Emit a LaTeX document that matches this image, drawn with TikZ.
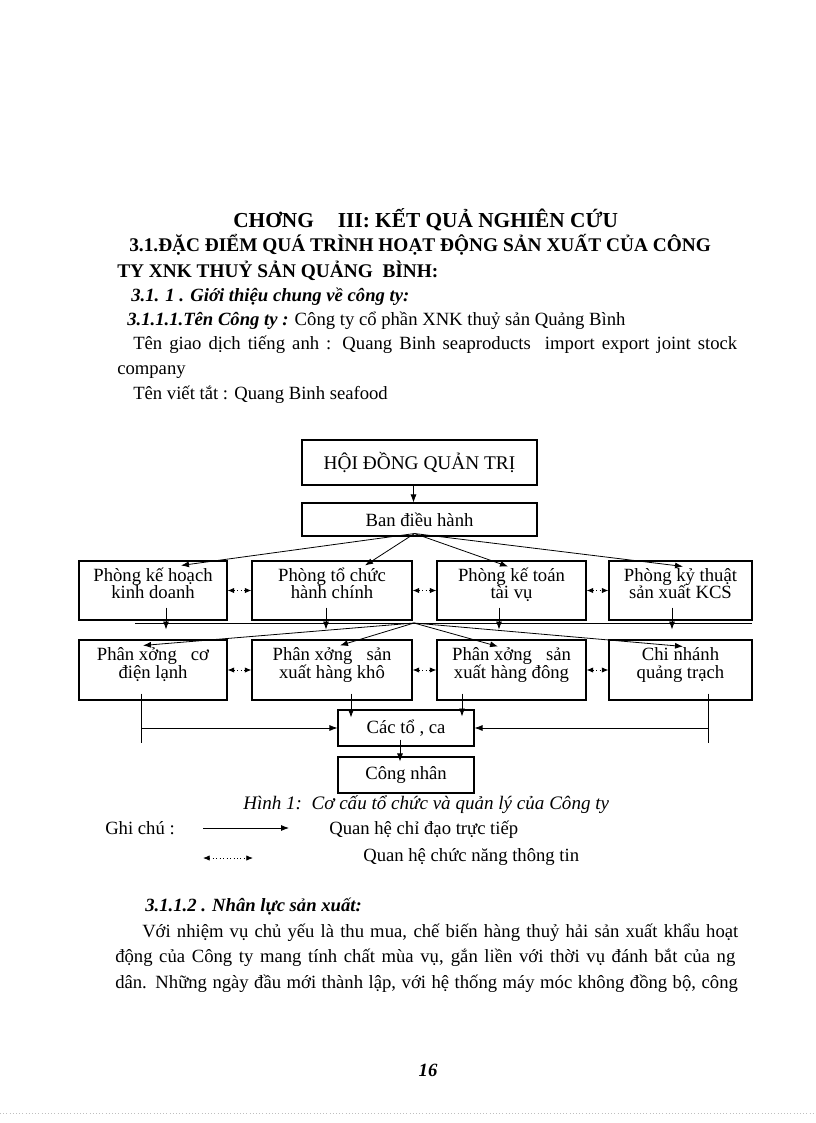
\documentclass[tikz,border=0pt]{standalone}
\usepackage{fontspec}
\setmainfont{Liberation Serif}
\usepackage{tikz}
\usetikzlibrary{positioning,arrows.meta,calc}

\newcommand\boxfont{\fontsize{14}{13}\selectfont\lineskiplimit=-20pt\relax}

\tikzset{
  box/.style={draw, line width=0.8pt, align=center, inner sep=1pt, font=\boxfont},
  rowbox/.style={box, text height=22pt, text depth=10pt},
  conn/.style={line width=0.6pt},
  arr/.style={line width=0.6pt, -{Latex[length=6pt,width=4.5pt]}},
  darr/.style={line width=0.6pt, dotted, {Latex[length=5pt,width=4pt]}-{Latex[length=5pt,width=4pt]}},
  txt/.style={anchor=base west, inner sep=0pt, font=\fontsize{14}{17}\selectfont},
  hd/.style={txt, font=\fontsize{14.5}{17}\selectfont\bfseries},
  hdi/.style={txt, font=\fontsize{14}{17}\selectfont\bfseries\itshape},
}

\begin{document}
\begin{tikzpicture}[x=0.75pt,y=-0.75pt]
    \fill[white] (0,0) rectangle (816,1123);
    \useasboundingbox (0,0) rectangle (816,1123);
    % heading and company text
    \node[hd, font=\fontsize{16}{17}\selectfont\bfseries] (t1) at (233,228) {CHƠNG\hspace{18pt}III: KẾT QUẢ NGHIÊN CỨU};
    \node[hd] (t2) at (129,252) {3.1.ĐẶC ĐIỂM QUÁ TRÌNH HOẠT ĐỘNG SẢN XUẤT CỦA CÔNG};
    \node[hd] (t3) at (117,277) {TY XNK THUỶ SẢN QUẢNG\ \ BÌNH:};
    \node[hdi] (t4) at (131,301) {3.1. 1 . Giới thiệu chung về công ty:};
    \node[txt] (t5) at (127,325) {\textbf{\textit{3.1.1.1.Tên Công ty :}} Công ty cổ phần XNK thuỷ sản Quảng Bình};
    \node[txt] (t6) at (133,349) {\makebox[453pt][s]{Tên giao dịch tiếng anh : Quang Binh seaproducts\ \ import export joint stock}};
    \node[txt] (t7) at (117,374) {company};
    \node[txt] (t8) at (133,399) {Tên viết tắt : Quang Binh seafood};

    % boxes
    \node[box, minimum width=176.25pt, minimum height=33.75pt, font=\fontsize{14.5}{13}\selectfont] (hdqt) at (419.5,462.5) {HỘI ĐỒNG QUẢN TRỊ};
    \node[box, minimum width=176.25pt, minimum height=24.75pt] (ban) at (419.5,519.5) {Ban điều hành};
    \node[rowbox, minimum width=111pt, minimum height=44.25pt] (pkh) at (153,590.5) {Phòng kế hoạch\\kinh doanh};
    \node[rowbox, minimum width=120pt, minimum height=44.25pt] (ptc) at (332,590.5) {Phòng tổ chức\\hành chính};
    \node[rowbox, minimum width=111.75pt, minimum height=44.25pt] (pkt) at (511.5,590.5) {Phòng kế toán\\tài vụ};
    \node[rowbox, minimum width=107.25pt, minimum height=44.25pt] (pkcs) at (680.5,590.5) {Phòng kỷ thuật\\sản xuất KCS};
    \node[rowbox, minimum width=111pt, minimum height=45pt] (pxcd) at (153,670) {Phân xởng\ \ \ cơ\\điện lạnh};
    \node[rowbox, minimum width=120pt, minimum height=45pt] (pxkho) at (332,670) {Phân xởng\ \ \ sản\\xuất hàng khô};
    \node[rowbox, minimum width=111.75pt, minimum height=45pt] (pxdong) at (511.5,670) {Phân xởng\ \ \ sản\\xuất hàng đông};
    \node[rowbox, minimum width=107.25pt, minimum height=45pt] (cnqt) at (680.5,670) {Chi nhánh\\quảng trạch};
    \node[box, minimum width=102pt, minimum height=27pt] (toca) at (406,728) {Các tổ , ca};
    \node[box, minimum width=102pt, minimum height=27pt] (cn) at (406,775) {Công nhân};

    % direct lines
    \draw[arr] ($(hdqt.south)+(-6,0)$) -- ($(ban.north)+(-6,0)$);
    \coordinate (bf) at ($(ban.south)+(-5,-3)$);
    \foreach \n/\dx/\dy in {pkh/28/5, ptc/33/5, pkt/-3.5/6, pkcs/2.5/6}
        \draw[arr] (bf) -- ($(\n.north)+(\dx,\dy)$);
    \coordinate (bl) at (135,623);
    \coordinate (br) at (752,623);
    \coordinate (bc) at (414,623);
    \draw[conn] (bl) -- (br);
    \foreach \n/\dx in {pkh/13, ptc/-6, pkt/-12.5, pkcs/-8.5}
        \draw[arr] ($(\n.south)+(\dx,-13)$) -- ($(\n.south)+(\dx,9)$);
    \foreach \n/\dx/\dy in {pxcd/-10/6, pxkho/8/6, pxdong/-13.5/7, cnqt/2.5/7}
        \draw[arr] (bc) -- ($(\n.north)+(\dx,\dy)$);
    \draw[conn] ($(pxcd.south)+(-12,-7)$) coordinate (lt) -- ++(0,49);
    \draw[arr] (lt |- toca.west) -- (toca.west);
    \draw[conn] ($(cnqt.south)+(27.5,-7)$) coordinate (rt) -- ++(0,49);
    \draw[arr] (rt |- toca.east) -- (toca.east);
    \draw[arr] ($(pxkho.south)+(19,-7)$) -- ($(pxkho.south)+(19,17)$);
    \draw[arr] ($(pxdong.south)+(-49.5,-7)$) -- ($(pxdong.south)+(-49.5,16)$);
    \draw[arr] ($(toca.south)+(-6,-7)$) -- ($(cn.north)+(-6,5)$);

    % information lines
    \foreach \a/\b in {pkh/ptc, ptc/pkt, pkt/pkcs, pxcd/pxkho, pxkho/pxdong, pxdong/cnqt}
        \draw[darr] (\a.east) -- (\b.west);

    % caption and legend
    \node[txt, font=\fontsize{14.3}{17}\selectfont\itshape] (cap) at (243,809) {Hình 1:\ \ Cơ cấu tổ chức và quản lý của Công ty};
    \node[txt] (gc) at (105,834) {Ghi chú :};
    \coordinate (k1) at (203,828);
    \coordinate (k2) at (289,828);
    \draw[arr] (k1) -- (k2);
    \node[txt] (q1) at (329,834) {Quan hệ chỉ đạo trực tiếp};
    \coordinate (k3) at (203,858);
    \coordinate (k4) at (253,858);
    \draw[darr] (k3) -- (k4);
    \node[txt] (q2) at (363,861) {Quan hệ chức năng thông tin};

    % next section
    \node[hdi] (s1) at (145,911) {3.1.1.2 . Nhân lực sản xuất:};
    \node[txt] (p1) at (142,937) {\makebox[447pt][s]{Với nhiệm vụ chủ yếu là thu mua, chế biến hàng thuỷ hải sản xuất khẩu hoạt}};
    \node[txt] (p2) at (115,962) {\makebox[465pt][s]{động của Công ty mang tính chất mùa vụ, gắn liền với thời vụ đánh bắt của ng}};
    \node[txt] (p3) at (115,988) {\makebox[467pt][s]{dân. Những ngày đầu mới thành lập, với hệ thống máy móc không đồng bộ, công}};
    \node[hdi, anchor=base] (pg) at (428,1076) {16};
    \draw[lightgray, dotted] (0,1113) -- (816,1113);
\end{tikzpicture}
\end{document}
